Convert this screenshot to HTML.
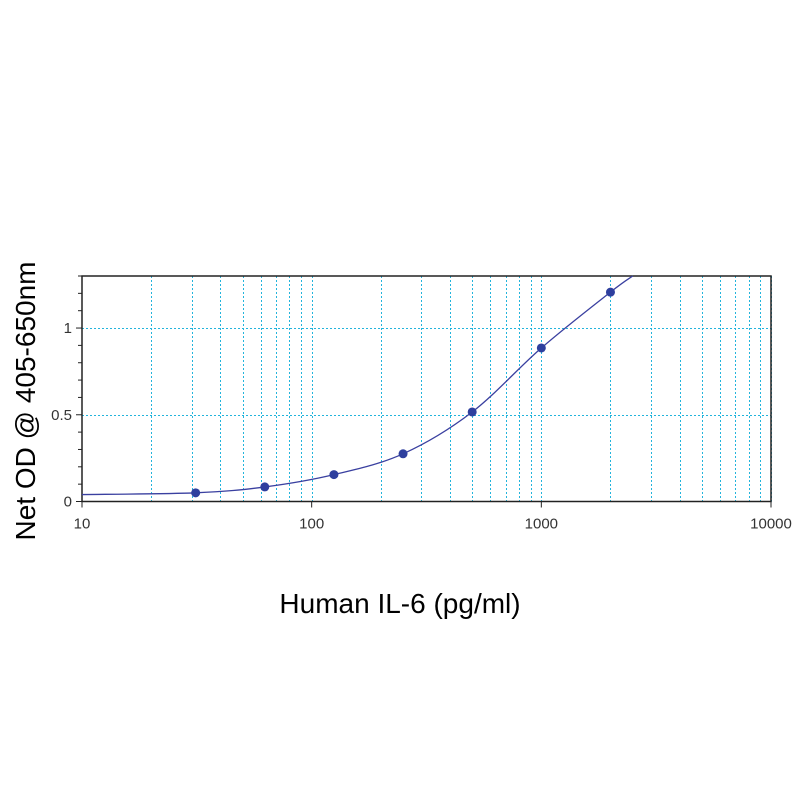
<!DOCTYPE html>
<html><head><meta charset="utf-8"><style>
body{margin:0;background:#fff}
svg{display:block}
text{font-family:"Liberation Sans",sans-serif}
</style></head><body>
<svg id="chart" width="800" height="800">
<g id="grid"></g>
<g id="axes"></g>
<g id="series"></g>
<text x="400" y="613" text-anchor="middle" font-size="28" fill="#000">Human IL-6 (pg/ml)</text>
<text transform="translate(35,401) rotate(-90)" text-anchor="middle" font-size="28" fill="#000">Net OD @ 405-650nm</text>
</svg>
<script>
const concentrations=[31.25,62.5,125,250,500,1000,2000];
const odValues=[0.05,0.084,0.155,0.275,0.516,0.885,1.207];
const curveStart=[10,0.04];
const curveEnd=[2500,1.30];
const xTickLabels=["10","100","1000","10000"];
const yTickLabels=["0","0.5","1"];
const yTickValues=[0,0.5,1];

const L=82,R=771,T=276,B=501.5,yMax=1.3;
const xs=v=>L+(Math.log10(v)-1)*(R-L)/3;
const ys=v=>B-v*(B-T)/yMax;
const snap=v=>Math.round(v)+0.5;
const NS="http://www.w3.org/2000/svg";
function mk(p,tag,attrs){const e=document.createElementNS(NS,tag);for(const k in attrs)e.setAttribute(k,attrs[k]);p.appendChild(e);return e;}
const grid=document.getElementById('grid'),axes=document.getElementById('axes'),series=document.getElementById('series');

for(let d=10;d<10000;d*=10){for(let m=1;m<=10;m++){const v=d*m;if(m===1&&d===10)continue;const x=snap(xs(v));
 const l=mk(grid,'line',{x1:x,x2:x,y1:T,y2:B,stroke:'#22b4dc','stroke-width':1,'stroke-dasharray':'2,2'});
 
 }}
yTickValues.forEach(v=>{if(v===0)return;const y=snap(ys(v));
 const l=mk(grid,'line',{x1:L,x2:R,y1:y,y2:y,stroke:'#22b4dc','stroke-width':1,'stroke-dasharray':'2,2'});
 
 });

const frame=mk(axes,'rect',{x:L,y:T,width:R-L,height:B-T,fill:'none',stroke:'#222','stroke-width':1.5});


for(let i=0;i<=13;i++){const y=ys(i*0.1);const len=(i%5===0)?6:4;
 const t=mk(axes,'line',{x1:L-len,x2:L,y1:y,y2:y,stroke:'#222','stroke-width':1});
 
 }
yTickValues.forEach((v,i)=>{const t=mk(axes,'text',{x:L-10,y:ys(v)+5,'text-anchor':'end','font-size':15,fill:'#333'});t.textContent=yTickLabels[i];
 
 });
xTickLabels.forEach(s=>{const x=xs(+s);
 const tk=mk(axes,'line',{x1:x,x2:x,y1:B,y2:B+6,stroke:'#222','stroke-width':1});
 
 
 const t=mk(axes,'text',{x:x,y:B+27,'text-anchor':'middle','font-size':15,fill:'#333'});t.textContent=s;
 
 });

const px=[curveStart[0],...concentrations,curveEnd[0]].map(xs);
const py=[curveStart[1],...odValues,curveEnd[1]].map(ys);
let d=`M${px[0]},${py[0]}`;
for(let i=0;i<px.length-1;i++){const p0=i?i-1:i,p3=i+2<px.length?i+2:i+1;
 const c1x=px[i]+(px[i+1]-px[p0])/6,c1y=py[i]+(py[i+1]-py[p0])/6;
 const c2x=px[i+1]-(px[p3]-px[i])/6,c2y=py[i+1]-(py[p3]-py[i])/6;
 d+=` C${c1x},${c1y} ${c2x},${c2y} ${px[i+1]},${py[i+1]}`;}
const cp=mk(series,'path',{d:d,fill:'none',stroke:'#3a40a0','stroke-width':1.3});


concentrations.forEach((c,i)=>{const p=mk(series,'circle',{cx:xs(c),cy:ys(odValues[i]),r:4.5,fill:'#2e3f9e'});
 
 });
</script>
</body></html>
